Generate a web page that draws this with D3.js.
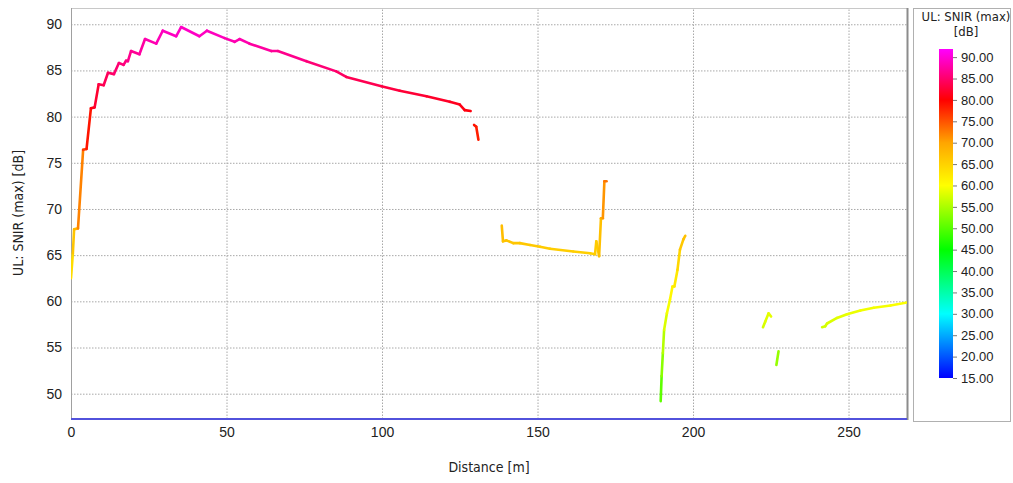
<!DOCTYPE html>
<html>
<head>
<meta charset="utf-8">
<script src="https://cdn.jsdelivr.net/npm/d3@7"></script>
<style>
  body { margin: 0; background: #fff; }
  svg { display: block; font-family: "DejaVu Sans Condensed", "DejaVu Sans", sans-serif; font-stretch: condensed; }
  .grid line { stroke: #a8a8a8; stroke-dasharray: 1.5,1.5; }
  .tick text { fill: #222; }
</style>
</head>
<body>
<svg id="chart"></svg>
<script>
(() => {
  const width = 1013;
  const height = 483;
  const plot = { left: 71, right: 907, top: 8, bottom: 419 };

  // Measured track pieces: [distance m, UL SNIR max dB]
  const track1 = [
    [0, 62.5], [0.6, 65.2], [1.0, 67.8], [2.25, 67.9], [3.9, 76.4], [5.0, 76.5],
    [6.4, 80.9], [7.6, 81.0], [8.9, 83.5], [10.5, 83.4], [11.9, 84.75], [13.8, 84.6],
    [15.4, 85.8], [16.9, 85.6], [17.7, 86.05], [18.3, 86.0], [19.3, 87.1], [22.0, 86.75],
    [23.8, 88.4], [27.4, 87.9], [29.5, 89.3], [33.8, 88.7], [35.4, 89.7], [41.3, 88.7],
    [43.7, 89.3], [49.4, 88.5], [52.6, 88.1], [54.2, 88.4], [57.4, 87.9], [64.4, 87.1],
    [66.5, 87.1], [75.7, 86.0], [85.3, 84.9], [88.5, 84.3], [99.8, 83.3], [105.7, 82.8],
    [114.3, 82.2], [121.8, 81.6], [125.0, 81.3], [126.6, 80.7], [128.5, 80.6]
  ];
  const track2 = [[129.6, 79.1], [130.3, 78.9], [131.0, 77.5]];
  const track3 = [
    [138.5, 68.2], [138.9, 66.5], [140.0, 66.6], [142.2, 66.3], [144.3, 66.3], [147.6, 66.1],
    [150.8, 65.9], [154.0, 65.7], [161.5, 65.4], [166.9, 65.2], [168.5, 65.1], [168.9, 66.5],
    [169.8, 64.9], [170.4, 69.0], [171.0, 69.0], [171.5, 73.0], [172.2, 73.0]
  ];
  const track4 = [
    [189.6, 49.2], [189.9, 51.9], [190.3, 54.4], [190.7, 56.9], [191.6, 58.7], [192.6, 60.2],
    [193.4, 61.6], [194.0, 61.6], [195.0, 63.4], [195.8, 65.6], [196.9, 66.7], [197.5, 67.1]
  ];
  const track5 = [[222.5, 57.2], [223.2, 57.8], [224.3, 58.7], [225.1, 58.35]];
  const track6 = [[226.8, 53.1], [227.5, 54.6]];
  const track7 = [
    [241.5, 57.2], [242.5, 57.3], [243.1, 57.6], [246.3, 58.2], [249.5, 58.6], [253.8, 59.0],
    [258.1, 59.3], [263.5, 59.55], [269.3, 59.9]
  ];
  const tracks = [track1, track2, track3, track4, track5, track6, track7];

  const xTicks = [0, 50, 100, 150, 200, 250];
  const yTicks = [50, 55, 60, 65, 70, 75, 80, 85, 90];
  const legendTicks = [90, 85, 80, 75, 70, 65, 60, 55, 50, 45, 40, 35, 30, 25, 20, 15];
  const colorStops = [15, 30, 45, 60, 70, 80, 91.9];
  const colorValues = ["#0000ff", "#00ffff", "#00ff00", "#ffff00", "#ffa500", "#ff0000", "#ff00ff"];

  const svg = d3.select("#chart").attr("width", width).attr("height", height);

  const x = d3.scaleLinear().domain([0, 268.8]).range([plot.left, plot.right]);
  const y = d3.scaleLinear().domain([47.26, 91.76]).range([plot.bottom, plot.top]);
  const color = d3.scaleLinear().domain(colorStops).range(colorValues).clamp(true);

  svg.append("defs").append("clipPath").attr("id", "clip")
    .append("rect")
    .attr("x", plot.left).attr("y", plot.top)
    .attr("width", plot.right - plot.left).attr("height", plot.bottom - plot.top);

  // Grid lines
  svg.append("g").attr("class", "grid")
    .attr("transform", `translate(0,${plot.bottom})`)
    .call(d3.axisBottom(x).tickValues(xTicks.slice(1)).tickSize(-(plot.bottom - plot.top)).tickFormat(""))
    .call(g => g.select(".domain").remove());
  svg.append("g").attr("class", "grid")
    .attr("transform", `translate(${plot.left},0)`)
    .call(d3.axisLeft(y).tickValues(yTicks).tickSize(-(plot.right - plot.left)).tickFormat(""))
    .call(g => g.select(".domain").remove());

  // Frame
  svg.append("line").attr("x1", plot.left).attr("x2", plot.right)
    .attr("y1", plot.top + 0.5).attr("y2", plot.top + 0.5).attr("stroke", "#c8c8c8");
  svg.append("line").attr("x1", plot.left + 0.5).attr("x2", plot.left + 0.5)
    .attr("y1", plot.top).attr("y2", plot.bottom).attr("stroke", "#a0a0a0");
  svg.append("line").attr("x1", plot.right + 0.5).attr("x2", plot.right + 0.5)
    .attr("y1", plot.top).attr("y2", plot.bottom + 1).attr("stroke", "#8c8c8c").attr("stroke-width", 2);

  // Axis labels
  svg.append("g")
    .attr("transform", `translate(${plot.left},0)`)
    .call(d3.axisLeft(y).tickValues(yTicks).tickSize(0).tickPadding(9))
    .call(g => g.select(".domain").remove())
    .selectAll("text").style("font-size", "14px");
  svg.append("g")
    .attr("transform", `translate(0,${plot.bottom})`)
    .call(d3.axisBottom(x).tickValues(xTicks).tickSize(0).tickPadding(8))
    .call(g => g.select(".domain").remove())
    .selectAll("text").style("font-size", "14px");

  // Bottom axis line (blue)
  svg.append("line").attr("x1", plot.left).attr("x2", plot.right)
    .attr("y1", plot.bottom).attr("y2", plot.bottom)
    .attr("stroke", "#5252dc").attr("stroke-width", 2);

  // Titles
  svg.append("text").attr("x", 489).attr("y", 472)
    .attr("text-anchor", "middle").style("font-size", "14px").attr("fill", "#222")
    .text("Distance [m]");
  svg.append("text").attr("transform", "translate(23,213) rotate(-90)")
    .attr("text-anchor", "middle").style("font-size", "14px").attr("fill", "#222")
    .text("UL: SNIR (max) [dB]");

  // Data pieces, coloured by value
  const lines = svg.append("g").attr("clip-path", "url(#clip)");
  tracks.forEach(track => {
    d3.pairs(track).forEach(([a, b]) => {
      lines.append("line")
        .attr("x1", x(a[0])).attr("y1", y(a[1]))
        .attr("x2", x(b[0])).attr("y2", y(b[1]))
        .attr("stroke", color((a[1] + b[1]) / 2))
        .attr("stroke-width", 2.6)
        .attr("stroke-linecap", "round");
    });
  });

  // Legend
  const legend = svg.append("g");
  legend.append("rect").attr("x", 913.5).attr("y", 8.5).attr("width", 97).attr("height", 413)
    .attr("fill", "#fff").attr("stroke", "#b0b0b0");
  legend.append("text").attr("x", 966).attr("y", 21).attr("text-anchor", "middle")
    .style("font-size", "13px").attr("fill", "#222").text("UL: SNIR (max)");
  legend.append("text").attr("x", 966).attr("y", 36).attr("text-anchor", "middle")
    .style("font-size", "13px").attr("fill", "#222").text("[dB]");

  const c = d3.scaleLinear().domain([15, 91.9]).range([378, 49]);
  const grad = svg.select("defs").append("linearGradient").attr("id", "bar")
    .attr("x1", 0).attr("y1", 1).attr("x2", 0).attr("y2", 0);
  colorStops.forEach((v, i) => {
    grad.append("stop").attr("offset", (v - 15) / (91.9 - 15)).attr("stop-color", colorValues[i]);
  });
  legend.append("rect").attr("x", 939).attr("y", c(91.9)).attr("width", 14)
    .attr("height", c(15) - c(91.9)).attr("fill", "url(#bar)");
  legend.append("g")
    .attr("transform", "translate(953,0)")
    .call(d3.axisRight(c).tickValues(legendTicks).tickSize(4).tickPadding(4).tickFormat(d3.format(".2f")))
    .call(g => g.select(".domain").remove())
    .call(g => g.selectAll("line").attr("stroke", "#777"))
    .selectAll("text").style("font-size", "13px");
})();
</script>
</body>
</html>
